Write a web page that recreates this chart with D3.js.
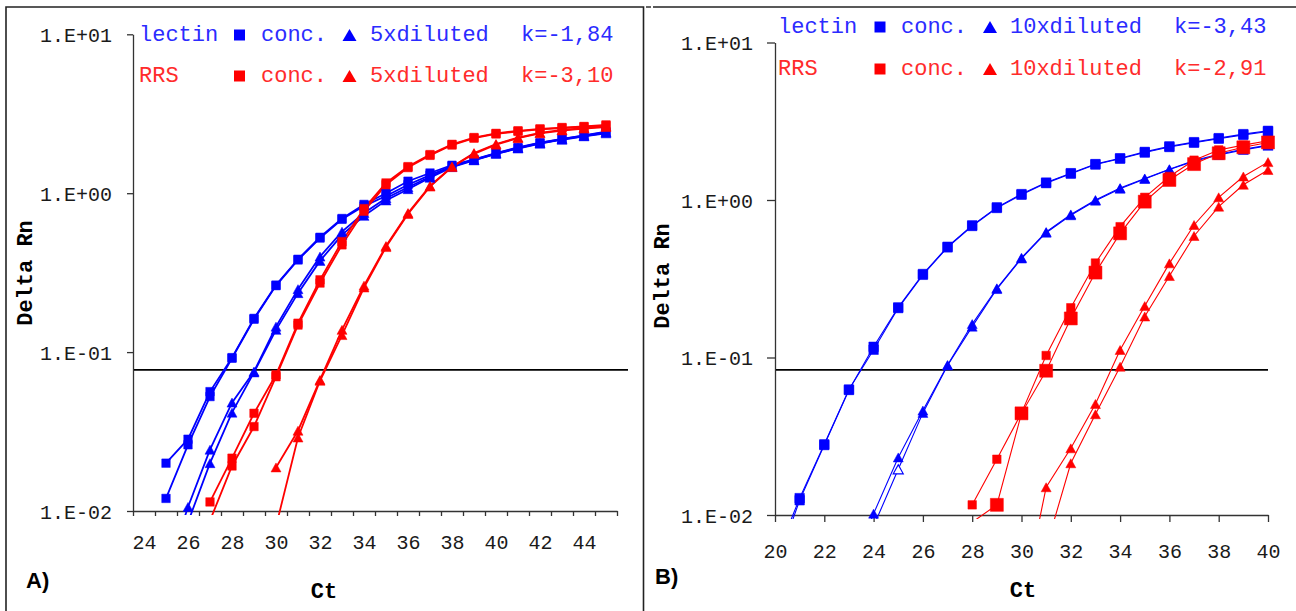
<!DOCTYPE html>
<html>
<head>
<meta charset="utf-8">
<script src="https://cdn.jsdelivr.net/npm/d3@7"></script>
<style>
  html, body { margin: 0; padding: 0; background: #fff; }
  svg { display: block; }
  .mono { font-family: "Liberation Mono", "Courier New", "DejaVu Sans Mono", monospace; }
  .sans { font-family: "Liberation Sans", Arial, sans-serif; }
</style>
</head>
<body>
<svg id="chart" width="1296" height="611"></svg>
<script>
// ---------- Panel A: 5x dilution, Ct cycles 24..45 ----------
const ctA = [24, 25, 26, 27, 28, 29, 30, 31, 32, 33, 34, 35, 36, 37, 38, 39, 40, 41, 42, 43, 44, 45];
const ctLabelsA = [24, 26, 28, 30, 32, 34, 36, 38, 40, 42, 44];
const lectinConcA1 = [null, 0.020, 0.0283, 0.0564, 0.0923, 0.163, 0.264, 0.384, 0.528, 0.693, 0.85, 1.00, 1.19, 1.34, 1.50, 1.63, 1.79, 1.94, 2.08, 2.20, 2.31, 2.44];
const lectinConcA2 = [null, 0.012, 0.0261, 0.0525, 0.0915, 0.161, 0.262, 0.380, 0.522, 0.685, 0.83, 0.96, 1.13, 1.30, 1.48, 1.62, 1.77, 1.92, 2.06, 2.18, 2.29, 2.40];
const lectinDilA1  = [null, 0.004, 0.0106, 0.0243, 0.0481, 0.0754, 0.1446, 0.249, 0.399, 0.573, 0.75, 0.93, 1.09, 1.27, 1.47, 1.62, 1.78, 1.93, 2.07, 2.19, 2.30, 2.42];
const lectinDilA2  = [null, null, 0.0085, 0.020, 0.0416, 0.0745, 0.138, 0.235, 0.375, 0.547, 0.72, 0.90, 1.06, 1.25, 1.46, 1.61, 1.77, 1.91, 2.05, 2.17, 2.28, 2.38];
const rrsConcA1    = [null, null, null, 0.0114, 0.0215, 0.0412, 0.072, 0.152, 0.285, 0.496, 0.80, 1.16, 1.47, 1.75, 2.03, 2.24, 2.38, 2.47, 2.54, 2.59, 2.63, 2.69];
const rrsConcA2    = [null, null, null, 0.0087, 0.0192, 0.034, 0.070, 0.148, 0.272, 0.473, 0.77, 1.13, 1.45, 1.73, 2.01, 2.22, 2.36, 2.45, 2.52, 2.57, 2.61, 2.66];
const rrsDilA1     = [null, null, null, null, null, null, 0.0188, 0.032, 0.0668, 0.138, 0.262, 0.465, 0.75, 1.11, 1.47, 1.79, 2.04, 2.24, 2.40, 2.50, 2.57, 2.63];
const rrsDilA2     = [null, null, null, null, null, null, 0.008, 0.029, 0.066, 0.128, 0.255, 0.458, 0.74, 1.10, 1.46, 1.77, 2.02, 2.22, 2.38, 2.48, 2.55, 2.61];
const thresholdA = 0.0773;

// ---------- Panel B: 10x dilution, Ct cycles 20..40 ----------
const ctB = [20, 21, 22, 23, 24, 25, 26, 27, 28, 29, 30, 31, 32, 33, 34, 35, 36, 37, 38, 39, 40];
const ctTicksB = [20, 22, 24, 26, 28, 30, 32, 34, 36, 38, 40];
const lectinConcB1 = [0.0045, 0.0124, 0.0278, 0.0622, 0.117, 0.208, 0.339, 0.505, 0.690, 0.898, 1.09, 1.29, 1.48, 1.69, 1.84, 2.02, 2.19, 2.33, 2.47, 2.62, 2.75];
const lectinConcB2 = [0.0052, 0.0128, 0.0281, 0.0626, 0.112, 0.206, 0.335, 0.500, 0.684, 0.890, 1.08, 1.28, 1.47, 1.68, 1.83, 2.00, 2.17, 2.31, 2.45, 2.59, 2.72];
const lectinDilB1  = [null, null, null, 0.004, 0.0102, 0.0232, 0.0460, 0.0896, 0.163, 0.275, 0.430, 0.626, 0.81, 1.00, 1.19, 1.37, 1.57, 1.78, 1.95, 2.10, 2.23];
const lectinDilB2  = [null, null, null, 0.003, 0.0085, 0.0195, 0.0445, 0.0890, 0.157, 0.272, 0.425, 0.62, 0.80, 0.99, 1.18, 1.36, 1.56, 1.76, 1.93, 2.08, 2.21];
const rrsConcB1    = [null, null, null, null, null, null, null, null, 0.0116, 0.0226, 0.0445, 0.103, 0.207, 0.398, 0.677, 1.04, 1.41, 1.79, 2.08, 2.23, 2.38];
const rrsConcB2    = [null, null, null, null, null, null, null, null, 0.009, 0.0116, 0.0442, 0.0824, 0.177, 0.346, 0.614, 0.976, 1.34, 1.69, 1.98, 2.16, 2.32];
const rrsDilB1     = [null, null, null, null, null, null, null, null, null, null, 0.0026, 0.015, 0.0265, 0.0507, 0.1116, 0.212, 0.396, 0.694, 1.04, 1.41, 1.74];
const rrsDilB2     = [null, null, null, null, null, null, null, null, null, null, null, 0.0062, 0.0213, 0.0436, 0.0874, 0.182, 0.329, 0.591, 0.907, 1.25, 1.55];
const thresholdB = 0.0835;
// cycle 25 of the second lectin 10x replicate is plotted with a hollow marker
const hollowB = [25];

const yTickValues = [0.01, 0.1, 1, 10];
const yTickLabels = ["1.E-02", "1.E-01", "1.E+00", "1.E+01"];

const legendA = [
  { name: "lectin", conc: "conc.", dil: "5xdiluted", k: "k=-1,84", color: "#0000ff", text: "#2b2bff" },
  { name: "RRS",    conc: "conc.", dil: "5xdiluted", k: "k=-3,10", color: "#ff0000", text: "#ff2b2b" }
];
const legendB = [
  { name: "lectin", conc: "conc.", dil: "10xdiluted", k: "k=-3,43", color: "#0000ff", text: "#2b2bff" },
  { name: "RRS",    conc: "conc.", dil: "10xdiluted", k: "k=-2,91", color: "#ff0000", text: "#ff2b2b" }
];

const BLUE = "#0000ff", RED = "#ff0000";
const svg = d3.select("#chart");

// panel frames
svg.append("path")
  .attr("d", "M6,620 V7 H643.5 V620")
  .attr("fill", "none").attr("stroke", "#222").attr("stroke-width", 1.6);
svg.append("path")
  .attr("d", "M653,7 H1300")
  .attr("fill", "none").attr("stroke", "#222").attr("stroke-width", 1.6);
svg.append("path")
  .attr("d", "M646,7 H651")
  .attr("fill", "none").attr("stroke", "#222").attr("stroke-width", 1.4);

// marker shapes centred on the data point
function squarePath(s) { const h = s / 2; return `M${-h},${-h}H${h}V${h}H${-h}Z`; }
function trianglePath(w, h) { return `M0,${-h / 2}L${w / 2},${h / 2}L${-w / 2},${h / 2}Z`; }

function drawPanel(cfg) {
  const g = svg.append("g");
  const x = cfg.x, y = cfg.y;
  const [x0, x1] = x.range();
  const [yb, yt] = y.range();

  // y axis
  const yAxis = d3.axisLeft(y).tickValues(yTickValues)
    .tickFormat((d, i) => yTickLabels[i]).tickSize(cfg.yTickSize).tickSizeOuter(0);
  const gy = g.append("g").attr("transform", `translate(${x0},0)`).call(yAxis);
  gy.select(".domain").attr("stroke", "#333").attr("stroke-width", 1.3);
  gy.selectAll(".tick line").attr("stroke", "#333").attr("stroke-width", 1.3);
  gy.selectAll("text").attr("class", "mono").attr("font-size", 20).attr("fill", "#1a1a1a")
    .attr("x", cfg.yLabelX).attr("dy", "0.36em");

  // x axis (tick marks)
  const xTickAxis = d3.axisBottom(x).tickValues(cfg.xTickMarks).tickFormat("")
    .tickSize(cfg.xTickSize).tickSizeOuter(0);
  const gx = g.append("g").attr("transform", `translate(0,${yb})`).call(xTickAxis);
  gx.select(".domain").attr("stroke", "#333").attr("stroke-width", 1.3);
  gx.selectAll(".tick line").attr("stroke", "#333").attr("stroke-width", 1.3);

  // x axis labels
  const xLabelAxis = d3.axisBottom(x).tickValues(cfg.xLabels).tickSize(0).tickSizeOuter(0);
  const gxl = g.append("g").attr("transform", `translate(0,${yb})`).call(xLabelAxis);
  gxl.select(".domain").remove();
  gxl.selectAll("text").attr("class", "mono").attr("font-size", 20).attr("fill", "#1a1a1a")
    .attr("y", cfg.xLabelY).attr("dy", 0);

  // threshold line
  g.append("line")
    .attr("x1", x0 + 1).attr("x2", cfg.thrEnd)
    .attr("y1", y(cfg.threshold)).attr("y2", y(cfg.threshold))
    .attr("stroke", "#000").attr("stroke-width", 1.7);

  // series lines, clipped just below the x axis
  const clipId = "clip" + cfg.id;
  g.append("clipPath").attr("id", clipId).append("rect")
    .attr("x", x0).attr("y", yt - 2).attr("width", x1 - x0 + 4).attr("height", yb - yt + 6);

  const lines = g.append("g").attr("clip-path", `url(#${clipId})`);
  const marks = g.append("g");
  cfg.series.forEach(s => {
    const pts = cfg.ct.map((c, i) => ({ c, v: s.values[i] }));
    const line = d3.line().defined(d => d.v != null)
      .x(d => x(d.c)).y(d => y(d.v));
    lines.append("path").datum(pts)
      .attr("d", line).attr("fill", "none")
      .attr("stroke", s.color).attr("stroke-width", cfg.lineWidth);
    const shape = s.marker === "square" ? squarePath(s.size) : trianglePath(s.size, s.size * 0.9);
    pts.filter(d => d.v != null && d.v >= 0.0099).forEach(d => {
      const hollow = s.hollow && s.hollow.includes(d.c);
      marks.append("path")
        .attr("d", shape)
        .attr("transform", `translate(${x(d.c)},${y(d.v)})`)
        .attr("fill", hollow ? "#fff" : s.color)
        .attr("stroke", s.color).attr("stroke-width", hollow ? 1.2 : 0.5);
    });
  });

  // legend
  cfg.legend.forEach((row, i) => {
    const by = cfg.legendY[i];
    const lx = cfg.legendX;
    const t = (txt, xx) => g.append("text").attr("class", "mono").attr("font-size", 22)
      .attr("x", xx).attr("y", by).attr("fill", row.text).text(txt);
    t(row.name, lx[0]);
    t(row.conc, lx[2]);
    t(row.dil, lx[4]);
    t(row.k, lx[5]);
    g.append("path").attr("d", squarePath(11))
      .attr("transform", `translate(${lx[1]},${by - 6})`).attr("fill", row.color);
    g.append("path").attr("d", trianglePath(14, 12))
      .attr("transform", `translate(${lx[3]},${by - 6})`).attr("fill", row.color);
  });

  // axis titles and panel tag
  g.append("text").attr("class", "mono").attr("font-size", 22).attr("font-weight", "bold")
    .attr("text-anchor", "middle")
    .attr("transform", `translate(${cfg.yTitle[0]},${cfg.yTitle[1]}) rotate(-90)`)
    .attr("fill", "#000").text("Delta Rn");
  g.append("text").attr("class", "mono").attr("font-size", 22).attr("font-weight", "bold")
    .attr("text-anchor", "middle").attr("x", cfg.xTitle[0]).attr("y", cfg.xTitle[1])
    .attr("fill", "#000").text("Ct");
  g.append("text").attr("class", "sans").attr("font-size", 22).attr("font-weight", "bold")
    .attr("x", cfg.tag[0]).attr("y", cfg.tag[1]).attr("fill", "#000").text(cfg.tagText);
}

// Panel A uses category positions: each cycle is centred in a 1-cycle band
const xA = d3.scaleLinear().domain([23.5, 45.5]).range([133, 617]);
const yA = d3.scaleLog().domain([0.01, 10]).range([511, 34.3]);
const bandEdgesA = ctA.map(c => c - 0.5).concat([45.5]);

drawPanel({
  id: "A", x: xA, y: yA, ct: ctA,
  xTickMarks: bandEdgesA, xLabels: ctLabelsA, xTickSize: 5, xLabelY: 38,
  yTickSize: 6, yLabelX: -21,
  threshold: thresholdA, thrEnd: 628, lineWidth: 1.8,
  series: [
    { values: lectinConcA1, color: BLUE, marker: "square", size: 8.5 },
    { values: lectinConcA2, color: BLUE, marker: "square", size: 8.5 },
    { values: lectinDilA1, color: BLUE, marker: "triangle", size: 10 },
    { values: lectinDilA2, color: BLUE, marker: "triangle", size: 10 },
    { values: rrsConcA1, color: RED, marker: "square", size: 8.5 },
    { values: rrsConcA2, color: RED, marker: "square", size: 8.5 },
    { values: rrsDilA1, color: RED, marker: "triangle", size: 10 },
    { values: rrsDilA2, color: RED, marker: "triangle", size: 10 }
  ],
  legend: legendA, legendY: [41, 82], legendX: [139, 239.5, 261, 349.5, 370, 521],
  yTitle: [32, 273], xTitle: [324, 598], tag: [26, 588], tagText: "A)"
});

const xB = d3.scaleLinear().domain([20, 40]).range([775, 1268]);
const yB = d3.scaleLog().domain([0.01, 10]).range([515, 42.5]);

drawPanel({
  id: "B", x: xB, y: yB, ct: ctB,
  xTickMarks: ctTicksB, xLabels: ctTicksB, xTickSize: 7, xLabelY: 43,
  yTickSize: 8, yLabelX: -22,
  threshold: thresholdB, thrEnd: 1268, lineWidth: 1.1,
  series: [
    { values: lectinConcB1, color: BLUE, marker: "square", size: 9.5 },
    { values: lectinConcB2, color: BLUE, marker: "square", size: 9.5 },
    { values: lectinDilB2, color: BLUE, marker: "triangle", size: 10, hollow: hollowB },
    { values: lectinDilB1, color: BLUE, marker: "triangle", size: 10 },
    { values: rrsConcB2, color: RED, marker: "square", size: 13 },
    { values: rrsConcB1, color: RED, marker: "square", size: 8.5 },
    { values: rrsDilB1, color: RED, marker: "triangle", size: 10 },
    { values: rrsDilB2, color: RED, marker: "triangle", size: 10 }
  ],
  legend: legendB, legendY: [33, 75], legendX: [778, 880, 901, 990, 1010, 1174],
  yTitle: [669, 276], xTitle: [1023, 597], tag: [655, 584], tagText: "B)"
});
</script>
</body>
</html>
